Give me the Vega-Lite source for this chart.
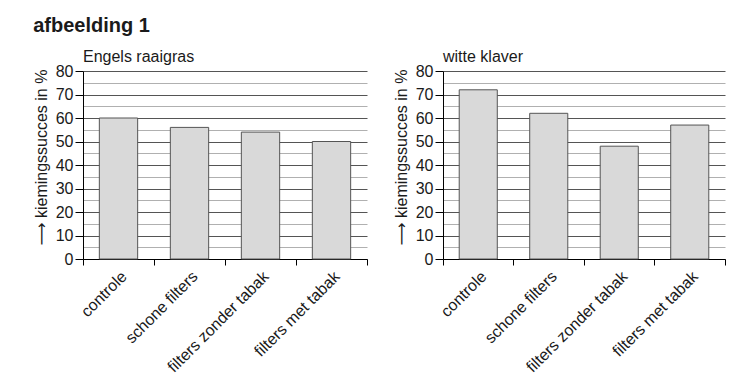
{
  "$schema": "https://vega.github.io/schema/vega-lite/v6.json",
  "padding": {"left": 33, "top": 16, "right": 5, "bottom": 5},
  "background": "white",
  "title": {"text": "afbeelding 1", "anchor": "start", "fontSize": 20, "fontWeight": "bold", "font": "Liberation Sans", "color": "#1a1a1a", "offset": 13},
  "data": {"values": [
    {"soort": "Engels raaigras", "behandeling": "controle", "waarde": 60},
    {"soort": "Engels raaigras", "behandeling": "schone filters", "waarde": 56},
    {"soort": "Engels raaigras", "behandeling": "filters zonder tabak", "waarde": 54},
    {"soort": "Engels raaigras", "behandeling": "filters met tabak", "waarde": 50},
    {"soort": "witte klaver", "behandeling": "controle", "waarde": 72},
    {"soort": "witte klaver", "behandeling": "schone filters", "waarde": 62},
    {"soort": "witte klaver", "behandeling": "filters zonder tabak", "waarde": 48},
    {"soort": "witte klaver", "behandeling": "filters met tabak", "waarde": 57}
  ]},
  "config": {
    "font": "Liberation Sans",
    "view": {"stroke": null},
    "title": {"color": "#1a1a1a"}
  },
  "spacing": 25,
  "hconcat": [
    {
      "title": {"text": "Engels raaigras", "anchor": "start", "frame": "group", "fontSize": 16, "fontWeight": "normal", "offset": -2},
      "width": 284, "height": 188,
      "transform": [{"filter": "datum.soort === 'Engels raaigras'"}],
      "mark": {"type": "bar", "width": {"band": 0.54}, "fill": "#d9d9d9", "stroke": "#555", "strokeWidth": 1},
      "encoding": {
        "x": {"field": "behandeling", "type": "nominal", "sort": ["controle", "schone filters", "filters zonder tabak", "filters met tabak"], "scale": {"paddingInner": 0, "paddingOuter": 0},
          "axis": {"title": null, "labelAngle": -45, "bandPosition": 1, "tickExtra": true, "grid": false, "domainColor": "#000", "tickColor": "#000", "tickSize": 6, "labelFontSize": 16, "labelColor": "#1a1a1a", "labelPadding": 3}},
        "y": {"field": "waarde", "type": "quantitative", "scale": {"domain": [0, 80], "nice": false},
          "axis": {"title": "⟶ kiemingssucces in %", "titleFont": "Liberation Sans, DejaVu Sans", "titleY": 86,
            "values": [0, 5, 10, 15, 20, 25, 30, 35, 40, 45, 50, 55, 60, 65, 70, 75, 80],
            "labelExpr": "datum.value % 10 === 0 ? datum.label : ''", "labelOverlap": false,
            "tickColor": {"condition": {"test": "datum.value % 10 !== 0", "value": "transparent"}, "value": "#000"},
            "gridColor": {"condition": {"test": "datum.value % 10 !== 0", "value": "#b0b0b0"}, "value": "#555"},
            "gridOpacity": 1, "grid": true, "domainColor": "#000", "tickSize": 8,
            "labelFontSize": 16, "labelColor": "#1a1a1a", "labelPadding": 2,
            "titleFontSize": 16, "titleFontWeight": "normal", "titleColor": "#1a1a1a", "titlePadding": 6}}
      }
    },
    {
      "title": {"text": "witte klaver", "anchor": "start", "frame": "group", "fontSize": 16, "fontWeight": "normal", "offset": -2},
      "width": 282, "height": 188,
      "transform": [{"filter": "datum.soort === 'witte klaver'"}],
      "mark": {"type": "bar", "width": {"band": 0.54}, "fill": "#d9d9d9", "stroke": "#555", "strokeWidth": 1},
      "encoding": {
        "x": {"field": "behandeling", "type": "nominal", "sort": ["controle", "schone filters", "filters zonder tabak", "filters met tabak"], "scale": {"paddingInner": 0, "paddingOuter": 0},
          "axis": {"title": null, "labelAngle": -45, "bandPosition": 1, "tickExtra": true, "grid": false, "domainColor": "#000", "tickColor": "#000", "tickSize": 6, "labelFontSize": 16, "labelColor": "#1a1a1a", "labelPadding": 3}},
        "y": {"field": "waarde", "type": "quantitative", "scale": {"domain": [0, 80], "nice": false},
          "axis": {"title": "⟶ kiemingssucces in %", "titleFont": "Liberation Sans, DejaVu Sans", "titleY": 86,
            "values": [0, 5, 10, 15, 20, 25, 30, 35, 40, 45, 50, 55, 60, 65, 70, 75, 80],
            "labelExpr": "datum.value % 10 === 0 ? datum.label : ''", "labelOverlap": false,
            "tickColor": {"condition": {"test": "datum.value % 10 !== 0", "value": "transparent"}, "value": "#000"},
            "gridColor": {"condition": {"test": "datum.value % 10 !== 0", "value": "#b0b0b0"}, "value": "#555"},
            "gridOpacity": 1, "grid": true, "domainColor": "#000", "tickSize": 8,
            "labelFontSize": 16, "labelColor": "#1a1a1a", "labelPadding": 2,
            "titleFontSize": 16, "titleFontWeight": "normal", "titleColor": "#1a1a1a", "titlePadding": 6}}
      }
    }
  ]
}
